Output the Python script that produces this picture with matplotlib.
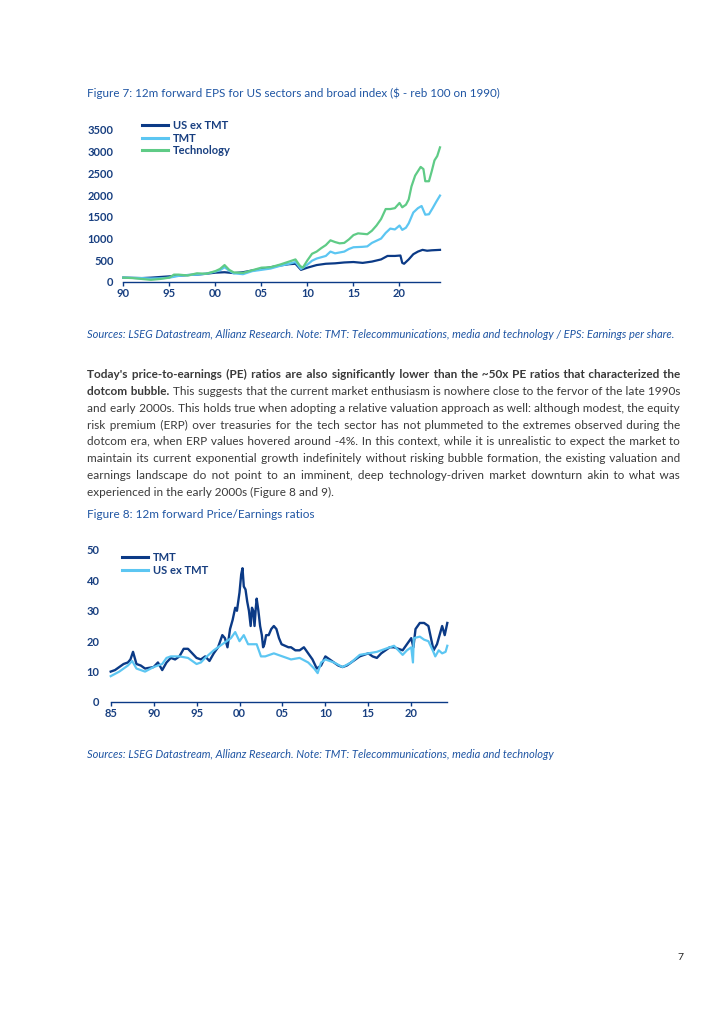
import matplotlib
matplotlib.use("Agg")
import matplotlib.pyplot as plt

W, H = 724, 1024
NAVY = "#0b3a86"
LIGHT = "#5cc6f2"
GREEN = "#5fcb86"
TICK = "#183f80"
TITLE = "#1f55a3"
BODY = "#3a3a3a"

plt.rcParams['font.family'] = ['Lato', 'DejaVu Sans']

# Figure 7: 12m forward EPS, rebased 100 on 1990
usx_years = [1990, 1991, 1992, 1993, 1994, 1995, 1996, 1997, 1998, 1999, 2000, 2001, 2002, 2003,
             2004, 2005, 2006, 2007, 2008, 2008.7, 2009.3, 2010, 2011, 2012, 2013, 2014, 2015,
             2016, 2017, 2018, 2018.7, 2019.5, 2020.1, 2020.3, 2020.5, 2021, 2021.5, 2022,
             2022.5, 2023, 2023.5, 2024.4]
usx_eps = [100, 95, 90, 100, 115, 130, 145, 160, 170, 190, 215, 225, 205, 225,
           265, 300, 340, 380, 410, 420, 280, 330, 390, 420, 430, 450, 460,
           440, 470, 520, 600, 600, 610, 440, 420, 520, 640, 700,
           740, 720, 730, 740]

tmt_years = [1990, 1991, 1992, 1993, 1994, 1995, 1996, 1997, 1998, 1999, 2000, 2000.5, 2001,
             2001.5, 2002, 2003, 2004, 2005, 2006, 2007, 2008, 2008.7, 2009.3, 2010, 2010.5,
             2011, 2012, 2012.5, 2013, 2014, 2014.5, 2015, 2016, 2016.5, 2017, 2018, 2018.5,
             2019, 2019.5, 2020, 2020.3, 2020.7, 2021, 2021.5, 2022, 2022.4, 2022.8, 2023.2,
             2023.6, 2024, 2024.4]
tmt_eps = [100, 95, 90, 80, 85, 100, 140, 160, 170, 190, 240, 270, 340,
           260, 200, 180, 250, 280, 310, 370, 420, 460, 300, 400, 490,
           540, 600, 700, 660, 700, 760, 800, 810, 820, 900, 1000, 1130,
           1230, 1210, 1300, 1200, 1250, 1350, 1600, 1700, 1750, 1550, 1560,
           1700, 1850, 1990]

tech_years = [1990, 1991, 1992, 1993, 1994, 1995, 1995.5, 1996, 1997, 1998, 1999, 2000, 2000.5,
              2001, 2001.5, 2002, 2003, 2004, 2005, 2006, 2007, 2008, 2008.7, 2009.2, 2009.5,
              2010, 2010.5, 2011, 2011.5, 2012, 2012.5, 2013, 2013.5, 2014, 2014.5, 2015,
              2015.5, 2016, 2016.5, 2017, 2017.5, 2018, 2018.5, 2019, 2019.5, 2020, 2020.3,
              2020.7, 2021, 2021.3, 2021.7, 2022, 2022.3, 2022.6, 2022.8, 2023.2, 2023.5,
              2023.8, 2024.1, 2024.4]
tech_eps = [100, 90, 70, 50, 70, 100, 170, 170, 150, 200, 190, 250, 300,
            390, 280, 220, 210, 270, 330, 340, 400, 470, 520, 370, 330,
            500, 650, 700, 780, 850, 960, 920, 890, 900, 980, 1080,
            1120, 1110, 1100, 1180, 1300, 1450, 1680, 1680, 1700, 1820, 1720,
            1780, 1900, 2200, 2450, 2550, 2650, 2600, 2320, 2320, 2550,
            2800, 2900, 3100]

# Figure 8: 12m forward P/E
pe_tmt_years = [1985, 1985.5, 1986, 1986.5, 1987, 1987.3, 1987.6, 1988, 1988.5, 1989, 1990,
                1990.5, 1991, 1991.5, 1992, 1992.5, 1993, 1993.5, 1994, 1994.5, 1995, 1995.5,
                1996, 1996.5, 1997, 1997.5, 1998, 1998.3, 1998.6, 1998.9, 1999.2, 1999.5,
                1999.7, 2000.0, 2000.2, 2000.35, 2000.5, 2000.7, 2000.9, 2001.1, 2001.3,
                2001.45, 2001.6, 2001.75, 2001.9, 2002.0, 2002.2, 2002.4, 2002.6, 2002.75,
                2002.9, 2003.1, 2003.4, 2003.7, 2004.0, 2004.3, 2004.6, 2004.9, 2005.3, 2005.7,
                2006.0, 2006.5, 2007.0, 2007.5, 2008.0, 2008.5, 2009.0, 2009.5, 2010.0,
                2010.5, 2011.0, 2011.5, 2012.0, 2012.5, 2013.0, 2013.5, 2014.0, 2014.5,
                2015.0, 2015.5, 2016.0, 2016.5, 2017.0, 2017.5, 2018.0, 2018.5, 2019.0,
                2019.5, 2020.0, 2020.25, 2020.5, 2021.0, 2021.5, 2022.0, 2022.3, 2022.6,
                2023.0, 2023.3, 2023.6, 2023.9, 2024.2]
pe_tmt = [10, 10.5, 11.5, 12.5, 13, 14, 16.5, 12.5, 12, 11, 11.5,
          13, 10.5, 13, 14.5, 14, 15, 17.5, 17.5, 16, 14.5, 14,
          15, 13.5, 16, 18, 22, 21, 18, 24, 27, 31,
          30, 36, 42, 44, 38, 37, 33, 30, 25,
          31, 30, 25, 31, 34, 30, 25, 22, 18,
          19, 22, 22, 24, 25, 24, 21, 19, 18.5, 18,
          18, 17, 17, 18, 16, 14, 11, 12, 15,
          14, 13, 12, 11.5, 12, 13, 14, 15, 15.5,
          16, 15, 14.5, 16, 17, 18, 18, 17.5, 17,
          19, 21, 18, 24, 26, 26, 25, 21, 17,
          19, 22, 25, 22, 26]

pe_usx_years = [1985, 1986, 1987, 1987.5, 1988, 1989, 1990, 1990.5, 1991, 1991.5, 1992, 1993,
                1994, 1995, 1995.5, 1996, 1997, 1998, 1998.5, 1999, 1999.5, 2000, 2000.5,
                2001, 2002, 2002.5, 2003, 2004, 2005, 2006, 2007, 2008, 2008.7, 2009.1, 2009.5,
                2010, 2011, 2012, 2013, 2014, 2015, 2016, 2017, 2018, 2018.5, 2019, 2019.5,
                2020.0, 2020.2, 2020.3, 2021, 2021.5, 2022, 2022.5, 2022.8, 2023.2, 2023.6,
                2024, 2024.2]
pe_usx = [8.5, 10, 12, 13.5, 11, 10, 11.5, 12, 12.5, 14.5, 15, 15,
          14.5, 12.5, 13, 14.5, 17, 19, 20, 21, 23, 20, 22,
          19, 19, 15, 15, 16, 15, 14, 14.5, 13, 11, 9.5, 13,
          14, 13, 11.5, 13, 15.5, 16, 16.5, 17.5, 18.5, 17, 15.5, 17,
          18, 13, 21, 21.5, 20.5, 20, 17, 15, 17, 16,
          16.5, 18.5]

fig = plt.figure(figsize=(W / 100, H / 100), dpi=100)
fig.patch.set_facecolor("white")
renderer = fig.canvas.get_renderer()


def px_axes(l, t, r, b):
    return fig.add_axes([l / W, 1 - b / H, (r - l) / W, (b - t) / H])


def text_w(s, **kw):
    t = fig.text(0, 0, s, **kw)
    w = t.get_window_extent(renderer).width
    t.remove()
    return w


def fit_text(x, y, s, target_w, size=8, **kw):
    w = text_w(s, fontsize=size, **kw)
    fig.text(x / W, 1 - y / H, s, fontsize=size * target_w / w, va="center", **kw)


def style_axes(ax, pad_y):
    for side in ["top", "right", "left"]:
        ax.spines[side].set_visible(False)
    ax.spines["bottom"].set_color(NAVY)
    ax.spines["bottom"].set_linewidth(1.0)
    ax.tick_params(axis="x", direction="out", length=3, width=1, color=NAVY, pad=1.5,
                   labelsize=8, labelcolor=TICK)
    ax.tick_params(axis="y", length=0, pad=pad_y, labelsize=8, labelcolor=TICK)
    for lab in ax.get_xticklabels() + ax.get_yticklabels():
        lab.set_fontweight("bold")
    ax.set_facecolor("none")


# ---- Figure 7
fit_text(87, 93, "Figure 7: 12m forward EPS for US sectors and broad index ($ - reb 100 on 1990)",
         412, color=TITLE)

ax1 = px_axes(123.3, 130, 440, 282)
l1, = ax1.plot(usx_years, usx_eps, color=NAVY, lw=1.6, clip_on=False)
l2, = ax1.plot(tmt_years, tmt_eps, color=LIGHT, lw=1.6, clip_on=False)
l3, = ax1.plot(tech_years, tech_eps, color=GREEN, lw=1.6, clip_on=False)
ax1.set_xlim(1990, 2024.4)
ax1.set_ylim(0, 3500)
ax1.set_xticks(range(1990, 2021, 5))
ax1.set_xticklabels(["90", "95", "00", "05", "10", "15", "20"])
ax1.set_yticks(range(0, 3501, 500))
style_axes(ax1, 7)
leg1 = ax1.legend([l1, l2, l3], ["US ex TMT", "TMT", "Technology"], loc="upper left",
                  bbox_to_anchor=(142 / W, 1 - 120 / H), bbox_transform=fig.transFigure,
                  frameon=False, fontsize=8, handlelength=2.3, handletextpad=0.45,
                  labelspacing=0.15, borderpad=0, borderaxespad=0)
for t in leg1.get_texts():
    t.set_color(TICK)
    t.set_fontweight("bold")
for h in leg1.get_lines():
    h.set_linewidth(2.2)

fit_text(87, 334, "Sources: LSEG Datastream, Allianz Research. Note: TMT: Telecommunications, media "
         "and technology / EPS: Earnings per share.", 586, color=TITLE, style="italic")

# ---- body text, justified by padding the spaces with hair spaces
body = [
    [("Today's price-to-earnings (PE) ratios are also significantly lower than the ~50x PE ratios "
      "that characterized the", "bold")],
    [("dotcom bubble.", "bold"), ("This suggests that the current market enthusiasm is nowhere "
                                  "close to the fervor of the late 1990s", "normal")],
    [("and early 2000s. This holds true when adopting a relative valuation approach as well: "
      "although modest, the equity", "normal")],
    [("risk premium (ERP) over treasuries for the tech sector has not plummeted to the extremes "
      "observed during the", "normal")],
    [("dotcom era, when ERP values hovered around -4%. In this context, while it is unrealistic "
      "to expect the market to", "normal")],
    [("maintain its current exponential growth indefinitely without risking bubble formation, "
      "the existing valuation and", "normal")],
    [("earnings landscape do not point to an imminent, deep technology-driven market downturn "
      "akin to what was", "normal")],
    [("experienced in the early 2000s (Figure 8 and 9).", "normal")],
]
HS = "\u200a"
base = 8
body_size = base * 246 / text_w(body[-1][0][0], fontsize=base)
x0, x1 = 87, 680
for i, segs in enumerate(body):
    y = 378 + 16.85 * i
    if i == len(body) - 1:
        fig.text(x0 / W, 1 - y / H, segs[0][0], fontsize=body_size, color=BODY, va="baseline")
        continue
    n_words = sum(len(s.split()) for s, _ in segs)
    gaps = n_words - 1
    nat = sum(text_w(s, fontsize=body_size, fontweight=wt) for s, wt in segs)
    sp = text_w("a a", fontsize=body_size) - text_w("aa", fontsize=body_size)
    nat += sp * (len(segs) - 1)
    hs = (text_w("a" + HS * 20 + "a", fontsize=body_size) - text_w("aa", fontsize=body_size)) / 20
    total_hs = max(0, round((x1 - x0 - nat) / hs))
    per = [total_hs // gaps + (1 if k < total_hs % gaps else 0) for k in range(gaps)]
    x = x0
    k = 0
    for j, (s, wt) in enumerate(segs):
        words = s.split()
        line = words[0]
        for wd in words[1:]:
            line += " " + HS * per[k] + wd
            k += 1
        t = fig.text(x / W, 1 - y / H, line, fontsize=body_size, fontweight=wt, color=BODY,
                     va="baseline")
        if j < len(segs) - 1:
            x += t.get_window_extent(renderer).width + sp + hs * per[k]
            k += 1

# ---- Figure 8
fit_text(87, 514, "Figure 8: 12m forward Price/Earnings ratios", 226, color=TITLE)

ax2 = px_axes(110.7, 550, 447.3, 702)
m1, = ax2.plot(pe_tmt_years, pe_tmt, color=NAVY, lw=1.7, clip_on=False)
m2, = ax2.plot(pe_usx_years, pe_usx, color=LIGHT, lw=1.6, clip_on=False)
ax2.set_xlim(1985, 2024.2)
ax2.set_ylim(0, 50)
ax2.set_xticks(range(1985, 2021, 5))
ax2.set_xticklabels(["85", "90", "95", "00", "05", "10", "15", "20"])
ax2.set_yticks(range(0, 51, 10))
style_axes(ax2, 8)
leg2 = ax2.legend([m1, m2], ["TMT", "US ex TMT"], loc="upper left",
                  bbox_to_anchor=(122 / W, 1 - 552 / H), bbox_transform=fig.transFigure,
                  frameon=False, fontsize=8, handlelength=2.3, handletextpad=0.45,
                  labelspacing=0.15, borderpad=0, borderaxespad=0)
for t in leg2.get_texts():
    t.set_color(TICK)
    t.set_fontweight("bold")
for h in leg2.get_lines():
    h.set_linewidth(2.2)

fit_text(87, 754, "Sources: LSEG Datastream, Allianz Research. Note: TMT: Telecommunications, "
         "media and technology", 466, color=TITLE, style="italic")

fig.text(677 / W, 1 - 957 / H, "7", fontsize=7.5, color="#222222", va="center")

fig.savefig("out.png", dpi=100)
